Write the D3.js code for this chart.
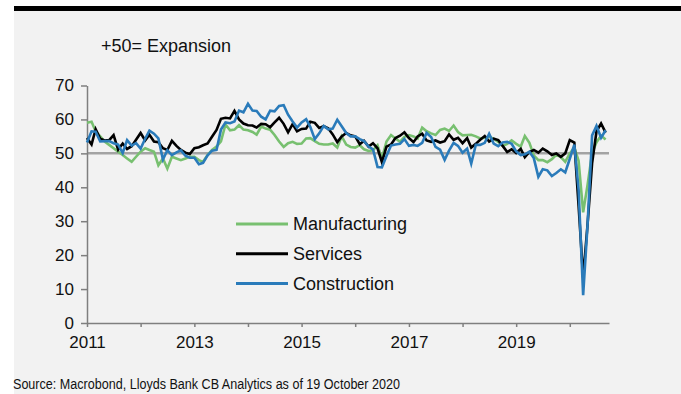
<!DOCTYPE html>
<html>
<head>
<meta charset="utf-8">
<script src="https://cdn.jsdelivr.net/npm/d3@7"></script>
<style>
  body { margin: 0; background: #fff; }
  svg { display: block; font-family: "Liberation Sans", Arial, sans-serif; }
</style>
</head>
<body>
<div id="chart"></div>
<script>
// monthly PMI readings, Jan 2011 - Sep 2020
var seriesNames = ["Manufacturing", "Services", "Construction"];
var seriesColors = ["#78c070", "#000000", "#2a7bba"];

var manufacturing = [
  59.0, 59.3, 56.5, 55.0, 53.5, 52.5, 51.5, 50.5, 49.5, 48.5, 47.5, 49.0,
  50.5, 51.5, 51.0, 50.5, 46.5, 48.5, 45.5, 49.0, 48.5, 48.0, 48.5, 49.0,
  49.0, 48.0, 47.5, 49.5, 51.0, 52.0, 53.5, 58.5, 56.8, 57.0, 58.3, 57.0,
  56.8, 56.3, 55.5, 57.9, 57.3, 57.0, 55.4, 53.5, 51.9, 53.0, 53.4, 52.8,
  52.9, 54.4, 54.5, 53.6, 52.8, 52.6, 52.6, 52.9, 51.7, 55.0, 52.6, 51.9,
  51.7, 52.4, 51.2, 50.7, 50.9, 52.4, 48.5, 53.5, 55.4, 54.4, 53.4, 54.9,
  55.4, 55.0, 54.4, 57.6, 56.5, 55.9, 55.4, 56.9, 57.3, 56.6, 58.2, 56.3,
  55.3, 55.4, 55.5, 55.0, 54.4, 54.6, 54.9, 54.3, 53.4, 52.2, 52.8, 53.8,
  52.8, 52.0, 55.1, 53.1, 49.4, 48.0, 48.0, 47.4, 48.3, 49.6, 48.9, 47.5,
  50.0, 51.7, 47.8, 32.6, 40.7, 50.1, 53.3, 55.2, 54.1
];
var services = [
  54.5, 52.6, 57.1, 54.3, 53.8, 53.9, 55.4, 51.1, 52.9, 51.3, 52.1, 54.0,
  56.0, 53.8, 55.5, 53.5, 53.3, 51.5, 51.0, 53.7, 52.2, 51.0, 50.2, 49.8,
  51.5, 51.8, 52.4, 52.9, 54.9, 56.9, 60.2, 60.5, 60.3, 62.5, 60.0, 58.8,
  58.3, 58.2, 57.6, 58.7, 58.6, 57.7, 59.1, 60.5, 58.7, 56.2, 58.6, 56.5,
  57.2, 57.3, 59.3, 59.0, 57.5, 58.0, 57.4, 55.6, 53.3, 55.0, 56.0, 55.3,
  55.0, 52.7, 53.7, 52.0, 53.0, 51.5, 47.4, 52.0, 52.6, 54.5, 55.2, 56.2,
  54.5, 53.3, 55.0, 55.8, 53.8, 53.4, 53.8, 53.2, 53.6, 55.6, 54.0, 54.6,
  53.0, 54.5, 51.7, 52.8, 54.0, 55.1, 53.5, 54.3, 53.9, 52.2, 50.4, 51.2,
  50.1, 51.3, 48.9, 50.4, 51.0, 50.2, 51.4, 50.6, 49.5, 50.0, 49.0, 50.0,
  53.9, 53.2, 34.5, 13.4, 29.0, 47.1, 56.5, 58.8, 56.1
];
var construction = [
  53.2, 56.5, 56.4, 53.5, 53.6, 53.6, 53.0, 52.6, 50.1, 53.9, 52.3, 53.0,
  51.4, 54.3, 56.7, 55.8, 54.4, 48.2, 50.9, 49.5, 50.3, 50.9, 49.3, 48.7,
  48.7, 46.8, 47.2, 49.4, 50.8, 51.0, 57.0, 59.1, 58.9, 59.4, 62.6, 62.1,
  64.6, 62.6, 62.5, 60.8, 60.0, 62.6, 62.4, 64.0, 64.2, 61.4, 59.4, 57.6,
  59.1, 60.1, 57.8, 54.2, 55.9, 58.1, 57.1, 57.3, 59.9, 58.0, 56.0, 55.0,
  55.0, 54.2, 53.6, 52.0, 51.2, 46.0, 45.9, 49.2, 52.3, 52.6, 52.8, 54.2,
  52.2, 52.5, 52.2, 53.1, 56.0, 54.8, 51.9, 51.1, 48.1, 50.8, 53.1, 52.2,
  50.2, 51.4, 47.0, 52.5, 52.5, 53.1, 55.8, 52.9, 52.1, 53.2, 53.4, 52.8,
  50.6, 49.5, 49.7, 50.5, 48.6, 43.1, 45.3, 45.0, 43.3, 44.2, 45.3, 44.4,
  48.4, 52.6, 39.3, 8.2, 28.9, 55.3, 58.1, 54.6, 56.8
];
var yTicks = [0, 10, 20, 30, 40, 50, 60, 70];
var threshold = 50;
var noteText = "+50= Expansion";
var sourceText = "Source: Macrobond, Lloyds Bank CB Analytics as of 19 October 2020";

var months = d3.timeMonth.range(new Date(2011, 0, 1), new Date(2020, 9, 1));
var allSeries = [manufacturing, services, construction];

var width = 681, height = 394;

var svg = d3.select("#chart").append("svg")
  .attr("width", width)
  .attr("height", height);

// panel + top rule
svg.append("rect")
  .attr("x", 14).attr("y", 11)
  .attr("width", width - 14).attr("height", height - 11)
  .attr("fill", "#f2f2f2");
svg.append("rect")
  .attr("x", 14).attr("y", 6)
  .attr("width", width - 14).attr("height", 5)
  .attr("fill", "#000");

var x = d3.scaleTime()
  .domain([new Date(2011, 0, 1), new Date(2020, 8, 24)])
  .range([87, 609]);
var y = d3.scaleLinear()
  .domain([0, 70])
  .range([323, 85.5]);

svg.append("text")
  .attr("x", 101).attr("y", 52)
  .style("font-size", "18px")
  .style("fill", "#111")
  .text(noteText);

// 50 line
svg.append("line")
  .attr("x1", x.range()[0]).attr("x2", x.range()[1])
  .attr("y1", y(threshold)).attr("y2", y(threshold))
  .attr("stroke", "#a3a3a3")
  .attr("stroke-width", 2.5);

var xAxis = svg.append("g")
  .attr("transform", "translate(0," + y(0) + ")")
  .call(d3.axisBottom(x)
    .ticks(d3.timeYear)
    .tickSize(4)
    .tickSizeOuter(0)
    .tickFormat(function(d) {
      var yr = d.getFullYear();
      return yr % 2 == 1 ? yr : "";
    }));

var yAxis = svg.append("g")
  .attr("transform", "translate(" + x.range()[0] + ",0)")
  .call(d3.axisLeft(y)
    .tickValues(yTicks)
    .tickSize(6)
    .tickSizeOuter(0));

[xAxis, yAxis].forEach(function(a) {
  a.select(".domain").attr("stroke", "#7f7f7f").attr("stroke-width", 1.5);
  a.selectAll(".tick line").attr("stroke", "#7f7f7f").attr("stroke-width", 1.5);
  a.selectAll(".tick text")
    .style("font-size", "17px")
    .style("font-family", "'Liberation Sans', Arial, sans-serif")
    .attr("fill", "#111");
});
xAxis.selectAll(".tick text").attr("dy", "1.05em");
yAxis.selectAll(".tick text").attr("x", -13);

var line = d3.line()
  .x(function(d, i) { return x(months[i]); })
  .y(function(d) { return y(d); });

svg.append("g")
  .selectAll("path")
  .data(allSeries)
  .enter().append("path")
  .attr("d", line)
  .attr("fill", "none")
  .attr("stroke", function(d, i) { return seriesColors[i]; })
  .attr("stroke-width", 2.6)
  .attr("stroke-linejoin", "miter");

// legend
var legend = svg.append("g")
  .selectAll("g")
  .data(seriesNames)
  .enter().append("g")
  .attr("transform", function(d, i) { return "translate(236," + (224 + i * 29.8) + ")"; });
legend.append("line")
  .attr("x1", 0).attr("x2", 52)
  .attr("stroke", function(d, i) { return seriesColors[i]; })
  .attr("stroke-width", 3);
legend.append("text")
  .attr("x", 57)
  .attr("dy", "0.36em")
  .style("font-size", "18px")
  .style("fill", "#111")
  .text(function(d) { return d; });

// source line is a bit condensed in the original
svg.append("text")
  .attr("x", 13).attr("y", 389)
  .attr("textLength", 387)
  .attr("lengthAdjust", "spacingAndGlyphs")
  .style("font-size", "14px")
  .style("fill", "#111")
  .text(sourceText);
</script>
</body>
</html>
